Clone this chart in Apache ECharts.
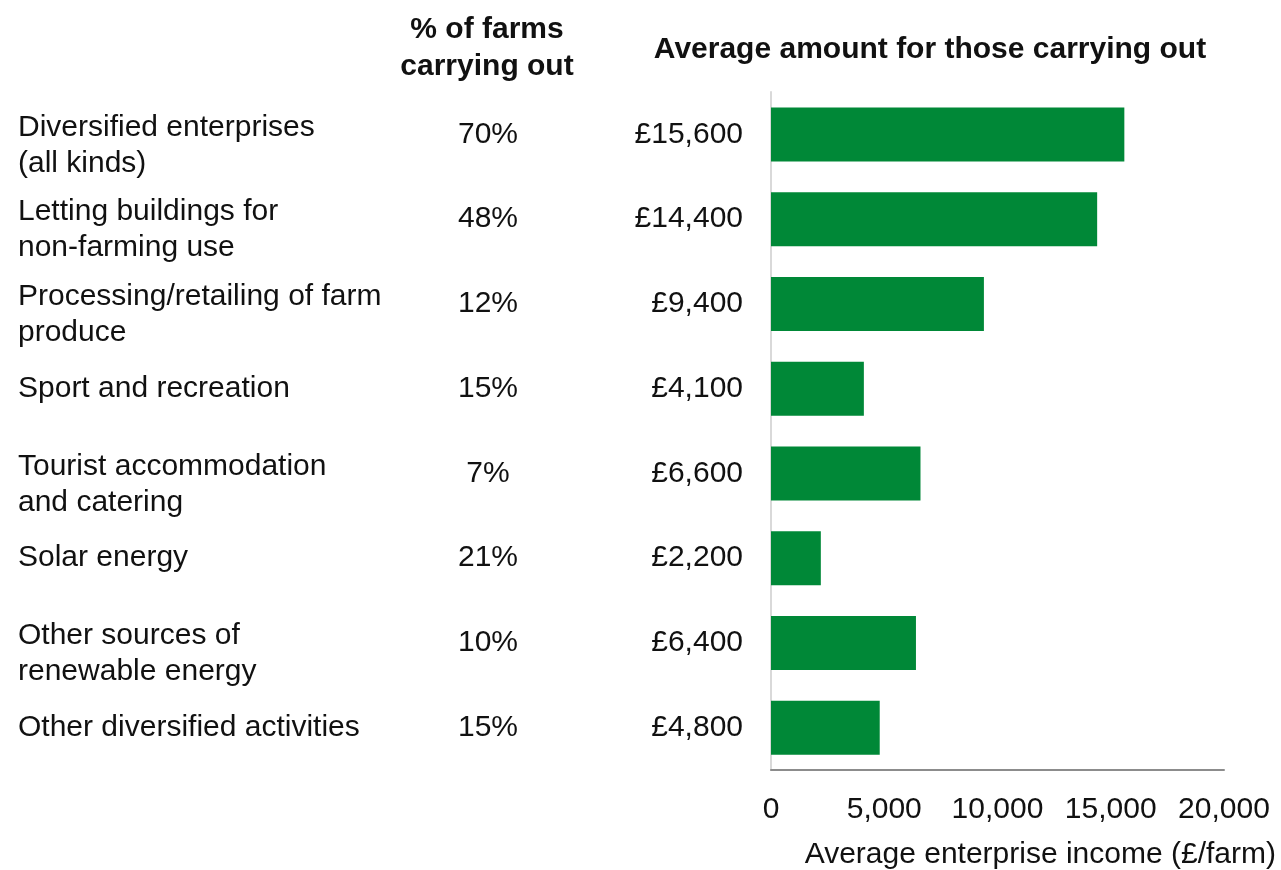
<!DOCTYPE html>
<html>
<head>
<meta charset="utf-8">
<title>Farm diversification</title>
<script src="https://cdn.jsdelivr.net/npm/echarts@6/dist/echarts.min.js"></script>
<style>
  html, body { margin: 0; padding: 0; background: #ffffff; }
  #chart { width: 1281px; height: 870px; }
</style>
</head>
<body>
<div id="chart"></div>
<script>
// Diversified activities on farms
const categories = [
  'Diversified enterprises\n(all kinds)',
  'Letting buildings for\nnon-farming use',
  'Processing/retailing of farm\nproduce',
  'Sport and recreation',
  'Tourist accommodation\nand catering',
  'Solar energy',
  'Other sources of\nrenewable energy',
  'Other diversified activities'
];
// share of farms carrying out each activity (%)
const sharePct = [70, 48, 12, 15, 7, 21, 10, 15];
// average enterprise income for farms carrying out the activity (£/farm)
const avgIncome = [15600, 14400, 9400, 4100, 6600, 2200, 6400, 4800];
const xTicks = { min: 0, max: 20000, interval: 5000 };

const FONT = '"Liberation Sans", Arial, sans-serif';
const TEXT = '#111111';
const FS = 30;

const chart = echarts.init(document.getElementById('chart'), null, { renderer: 'canvas' });

const idx = (v) => categories.indexOf(v);

// two-line labels sit a little below the bar centre: a short spacer line on top
const categoryLabel = (v) => {
  const lines = v.split('\n');
  if (lines.length < 2) return '{t|' + v + '}';
  return '{s| }\n' + lines.map((l) => '{t|' + l + '}').join('\n');
};

const categoryAxisBase = {
  type: 'category',
  data: categories,
  inverse: true,
  position: 'left',
  axisTick: { show: false },
  splitLine: { show: false }
};

const labelBase = {
  fontFamily: FONT, fontSize: FS, color: TEXT,
  interval: 0, showMinLabel: true, showMaxLabel: true, hideOverlap: false
};

chart.setOption({
  animation: false,
  backgroundColor: '#ffffff',
  grid: { left: 771, right: 57, top: 92, bottom: 100, outerBoundsMode: 'none' },
  xAxis: {
    type: 'value',
    min: xTicks.min,
    max: xTicks.max,
    interval: xTicks.interval,
    axisLine: { show: true, lineStyle: { color: '#8c8c8c', width: 2 } },
    axisTick: { show: false },
    splitLine: { show: false },
    axisLabel: {
      fontFamily: FONT, fontSize: FS, color: TEXT, margin: 25,
      formatter: (v) => v.toLocaleString('en-GB')
    }
  },
  yAxis: [
    Object.assign({}, categoryAxisBase, {
      axisLine: { show: true, lineStyle: { color: '#d9d9d9', width: 2 } },
      axisLabel: Object.assign({}, labelBase, {
        align: 'left', margin: 753,
        formatter: categoryLabel,
        rich: {
          s: { fontFamily: FONT, fontSize: 10, lineHeight: 22 },
          t: { fontFamily: FONT, fontSize: FS, color: TEXT, lineHeight: 36 }
        }
      })
    }),
    Object.assign({}, categoryAxisBase, {
      axisLine: { show: false },
      axisLabel: Object.assign({}, labelBase, {
        align: 'center', margin: 283,
        formatter: (v) => sharePct[idx(v)] + '%'
      })
    }),
    Object.assign({}, categoryAxisBase, {
      axisLine: { show: false },
      axisLabel: Object.assign({}, labelBase, {
        align: 'right', margin: 28,
        formatter: (v) => '£' + avgIncome[idx(v)].toLocaleString('en-GB')
      })
    })
  ],
  series: [{
    type: 'bar',
    yAxisIndex: 0,
    data: avgIncome,
    barWidth: 54,
    itemStyle: { color: '#008837' },
    silent: true
  }],
  graphic: [
    {
      type: 'text', x: 487, y: 48,
      style: {
        text: '% of farms\ncarrying out',
        fontFamily: FONT, fontSize: FS, fontWeight: 'bold', fill: TEXT,
        align: 'center', verticalAlign: 'middle', lineHeight: 37
      }
    },
    {
      type: 'text', x: 930, y: 50,
      style: {
        text: 'Average amount for those carrying out',
        fontFamily: FONT, fontSize: FS, fontWeight: 'bold', fill: TEXT,
        align: 'center', verticalAlign: 'middle'
      }
    },
    {
      type: 'text', x: 1276, y: 855,
      style: {
        text: 'Average enterprise income (£/farm)',
        fontFamily: FONT, fontSize: FS, fill: TEXT,
        align: 'right', verticalAlign: 'middle'
      }
    }
  ]
});
</script>
</body>
</html>
